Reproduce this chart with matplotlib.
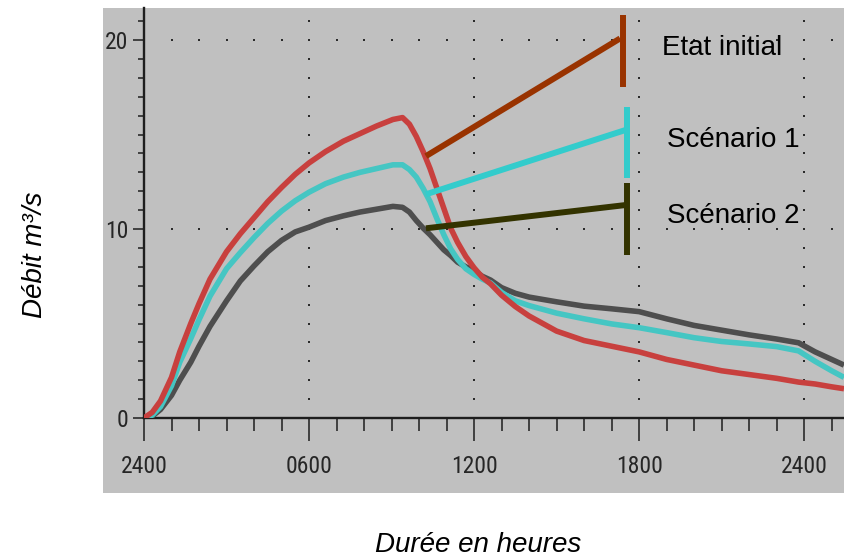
import matplotlib
matplotlib.use("Agg")
import matplotlib.pyplot as plt
from matplotlib import font_manager as fm
from matplotlib.patches import Rectangle
from matplotlib.ticker import MultipleLocator, FixedLocator
import numpy as np

# ---------------- data ----------------
hours = [0, 0.3, 0.6, 1, 1.3, 1.7, 2, 2.4, 3, 3.5, 4, 4.5, 5, 5.5, 6, 6.6, 7.25,
         7.85, 8.45, 9.05, 9.4, 9.65, 9.9, 10.15, 10.4, 10.65, 10.9, 11.15, 11.4,
         11.7, 12, 12.3, 12.6, 13, 13.5, 14, 15, 16, 17, 18, 19, 20, 21, 22, 23,
         23.8, 24.4, 25, 25.45]
etat_initial = [0.0, 0.3, 0.9, 2.15, 3.5, 5.0, 6.05, 7.35, 8.8, 9.75, 10.6, 11.45,
                12.2, 12.9, 13.5, 14.1, 14.65, 15.05, 15.45, 15.8, 15.9, 15.55, 14.9,
                14.1, 13.2, 12.15, 11.1, 10.05, 9.3, 8.55, 7.95, 7.45, 7.1, 6.5, 5.9,
                5.4, 4.6, 4.1, 3.8, 3.5, 3.1, 2.8, 2.5, 2.3, 2.1, 1.9, 1.8, 1.65, 1.55]
scenario_1 = [0.0, 0.15, 0.6, 1.7, 2.95, 4.2, 5.2, 6.45, 7.9, 8.75, 9.55, 10.3,
              10.95, 11.5, 11.95, 12.4, 12.75, 13.0, 13.2, 13.4, 13.4, 13.15, 12.75,
              12.15, 11.45, 10.55, 9.7, 8.95, 8.4, 7.9, 7.6, 7.35, 7.15, 6.65, 6.2,
              5.95, 5.55, 5.25, 4.98, 4.78, 4.52, 4.25, 4.05, 3.92, 3.78, 3.55, 3.0,
              2.5, 2.15]
scenario_2 = [0.0, 0.1, 0.45, 1.2, 2.0, 2.95, 3.8, 4.85, 6.2, 7.25, 8.05, 8.8, 9.4,
              9.85, 10.1, 10.45, 10.7, 10.9, 11.05, 11.2, 11.15, 10.9, 10.45, 10.05,
              9.7, 9.3, 8.9, 8.6, 8.25, 8.0, 7.8, 7.5, 7.3, 6.9, 6.6, 6.4, 6.15, 5.92,
              5.78, 5.63, 5.25, 4.9, 4.65, 4.4, 4.18, 3.98, 3.5, 3.1, 2.8]
series_labels = ["Etat initial", "Scénario 1", "Scénario 2"]
x_tick_positions = [0, 6, 12, 18, 24]
x_tick_labels = ["2400", "0600", "1200", "1800", "2400"]
y_tick_positions = [0, 10, 20]
y_tick_labels = ["0", "10", "20"]

curve_colors = ["#c8403e", "#45c6c3", "#4e4e4e"]
legend_colors = ["#993300", "#33cccc", "#333300"]

# ---------------- fonts ----------------
names = {f.name for f in fm.fontManager.ttflist}
narrow = next((n for n in ["Liberation Sans Narrow", "Roboto Condensed",
                           "Open Sans Condensed", "DejaVu Sans Condensed"] if n in names),
              "Liberation Sans")
plt.rcParams["font.family"] = ["Liberation Sans", "DejaVu Sans"]

W, H = 844, 557
fig = plt.figure(figsize=(W / 100, H / 100), dpi=100)
fig.patch.set_facecolor("white")

# gray panel
fig.patches.append(Rectangle((103 / W, 1 - 493 / H), (W - 103) / W, (493 - 8) / H,
                             transform=fig.transFigure, facecolor="#c0c0c0",
                             edgecolor="none", zorder=-10))

ax_left, ax_right = 144 / W, 1.0
ax_bottom, ax_top = 1 - 418 / H, 1 - 8 / H
ax = fig.add_axes([ax_left, ax_bottom, ax_right - ax_left, ax_top - ax_bottom])
ax.set_zorder(5)
ax.set_facecolor("none")
ax.set_xlim(0, 25.45)
ax.set_ylim(0, 21.7)

for s in ["top", "right"]:
    ax.spines[s].set_visible(False)
for s in ["left", "bottom"]:
    ax.spines[s].set_color("#1e1e1e")
    ax.spines[s].set_linewidth(1.7)

ax.xaxis.set_major_locator(FixedLocator(x_tick_positions))
ax.xaxis.set_minor_locator(MultipleLocator(1))
ax.yaxis.set_major_locator(FixedLocator(y_tick_positions))
ax.yaxis.set_minor_locator(MultipleLocator(1))
ax.set_xticklabels(x_tick_labels)
ax.set_yticklabels(y_tick_labels)
ax.tick_params(axis="x", which="major", length=16.5, width=1.1, color="#1e1e1e",
               pad=10, labelsize=17, labelcolor="#262626")
ax.tick_params(axis="x", which="minor", length=9.5, width=1.1, color="#1e1e1e")
ax.tick_params(axis="y", which="major", length=8, width=1.1, color="#1e1e1e",
               pad=3, labelsize=17, labelcolor="#262626")
ax.tick_params(axis="y", which="minor", length=4, width=1.1, color="#1e1e1e")
for lab in ax.get_xticklabels() + ax.get_yticklabels():
    lab.set_fontfamily([narrow, "DejaVu Sans"])

# dotted grid (dots at every minor position along major lines)
xmin_grid = np.arange(1, 26)
ymin_grid = np.arange(1, 22)
for xv in x_tick_positions[1:]:
    ax.plot(np.full_like(ymin_grid, xv, dtype=float), ymin_grid, ls="none",
            marker="s", ms=1.6, mew=0, color="#2a2a2a", zorder=1, clip_on=False)
for yv in y_tick_positions[1:]:
    ax.plot(xmin_grid, np.full_like(xmin_grid, yv, dtype=float), ls="none",
            marker="s", ms=1.6, mew=0, color="#2a2a2a", zorder=1, clip_on=False)

# curves
for vals, c in zip([scenario_2, scenario_1, etat_initial], curve_colors[::-1]):
    ax.plot(hours, vals, color=c, lw=4.0, solid_capstyle="butt",
            solid_joinstyle="round", zorder=3)

# leader-line legend
legend_starts = [(10.25, 13.86), (10.25, 11.84), (10.25, 10.04)]
legend_ends = [(17.31, 20.09), (17.5, 15.24), (17.5, 11.27)]
legend_bars = [(17.4, 17.53, 21.32), (17.55, 12.7, 16.46), (17.55, 8.62, 12.43)]
text_pos = [(18.83, 19.21), (19.0, 14.34), (19.0, 10.33)]
for lab, col, st, en, bar, tp in zip(series_labels, legend_colors, legend_starts,
                                     legend_ends, legend_bars, text_pos):
    ax.plot([st[0], en[0]], [st[1], en[1]], color=col, lw=4.3,
            solid_capstyle="butt", zorder=4)
    ax.plot([bar[0], bar[0]], [bar[1], bar[2]], color=col, lw=4.3,
            solid_capstyle="butt", zorder=4, clip_on=False)
    ax.text(tp[0], tp[1], lab, fontsize=20, color="black", ha="left",
            va="baseline", zorder=5)

fig.text(478 / W, 1 - 545 / H, "Durée en heures", fontsize=20, style="italic",
         ha="center", va="center")
fig.text(35 / W, 1 - 255 / H, "Débit m³/s", fontsize=20, style="italic",
         rotation=90, ha="center", va="center")

fig.savefig("out.png", dpi=100)
